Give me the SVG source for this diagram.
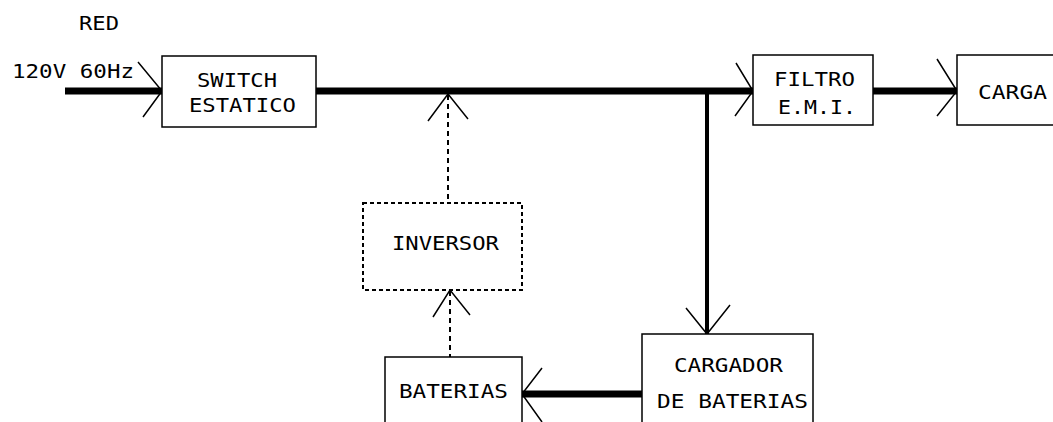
<svg xmlns="http://www.w3.org/2000/svg" width="1053" height="422" viewBox="0 0 1053 422">
<style>
text{font-family:"DejaVu Sans Mono","Liberation Mono",monospace;font-size:19px;fill:#000;}
.box{fill:#fff;stroke:#000;stroke-width:1.5;}
.dbox{fill:#fff;stroke:#000;stroke-width:2;stroke-dasharray:4 3;}
.thick{stroke:#000;stroke-width:7;fill:none;}
.mid{stroke:#000;stroke-width:4;fill:none;}
.dash{stroke:#000;stroke-width:2;stroke-dasharray:5 4;fill:none;}
.head{stroke:#000;stroke-width:1.5;fill:none;}
</style>
<g id="connectors">
<line class="thick" x1="65" y1="91" x2="162" y2="91"/>
<polyline class="head" points="138,62 162,91 143,117"/>
<line class="thick" x1="316" y1="91" x2="753" y2="91"/>
<polyline class="head" points="736,63 753,91 735,116"/>
<line class="thick" x1="873" y1="91" x2="957" y2="91"/>
<polyline class="head" points="937,59 957,91 937,116"/>
<line class="dash" x1="448" y1="95" x2="448" y2="203"/>
<polyline class="head" points="428,121 448,94 468,119"/>
<line class="dash" x1="450" y1="291" x2="450" y2="357"/>
<polyline class="head" points="433,317 450,290 470,315"/>
<line class="mid" x1="707" y1="91" x2="707" y2="334"/>
<polyline class="head" points="686,308 707,334 730,305"/>
<line class="thick" x1="642" y1="394" x2="522" y2="394"/>
<polyline class="head" points="542,368 522,394 542,422"/>
</g>
<g id="labels">
<text x="79" y="30" textLength="40" lengthAdjust="spacingAndGlyphs">RED</text>
<text x="12" y="78" textLength="122" lengthAdjust="spacingAndGlyphs">120V 60Hz</text>
</g>
<g id="switch">
<rect class="box" x="162" y="56" width="154" height="71"/>
<text x="197" y="87" textLength="80" lengthAdjust="spacingAndGlyphs">SWITCH</text>
<text x="189" y="112" textLength="107" lengthAdjust="spacingAndGlyphs">ESTATICO</text>
</g>
<g id="filtro">
<rect class="box" x="753" y="55" width="120" height="70"/>
<text x="774" y="86" textLength="81" lengthAdjust="spacingAndGlyphs">FILTRO</text>
<text x="778" y="114" textLength="78" lengthAdjust="spacingAndGlyphs">E.M.I.</text>
</g>
<g id="carga">
<rect class="box" x="957" y="55" width="110" height="70"/>
<text x="978" y="99" textLength="69" lengthAdjust="spacingAndGlyphs">CARGA</text>
</g>
<g id="inversor">
<rect class="dbox" x="363" y="203" width="159" height="87"/>
<text x="392" y="250" textLength="107" lengthAdjust="spacingAndGlyphs">INVERSOR</text>
</g>
<g id="baterias">
<rect class="box" x="385" y="357" width="137" height="80"/>
<text x="399" y="398" textLength="109" lengthAdjust="spacingAndGlyphs">BATERIAS</text>
</g>
<g id="cargador">
<rect class="box" x="642" y="334" width="171" height="100"/>
<text x="674" y="372" textLength="109" lengthAdjust="spacingAndGlyphs">CARGADOR</text>
<text x="657" y="408" textLength="151" lengthAdjust="spacingAndGlyphs">DE BATERIAS</text>
</g>
</svg>
